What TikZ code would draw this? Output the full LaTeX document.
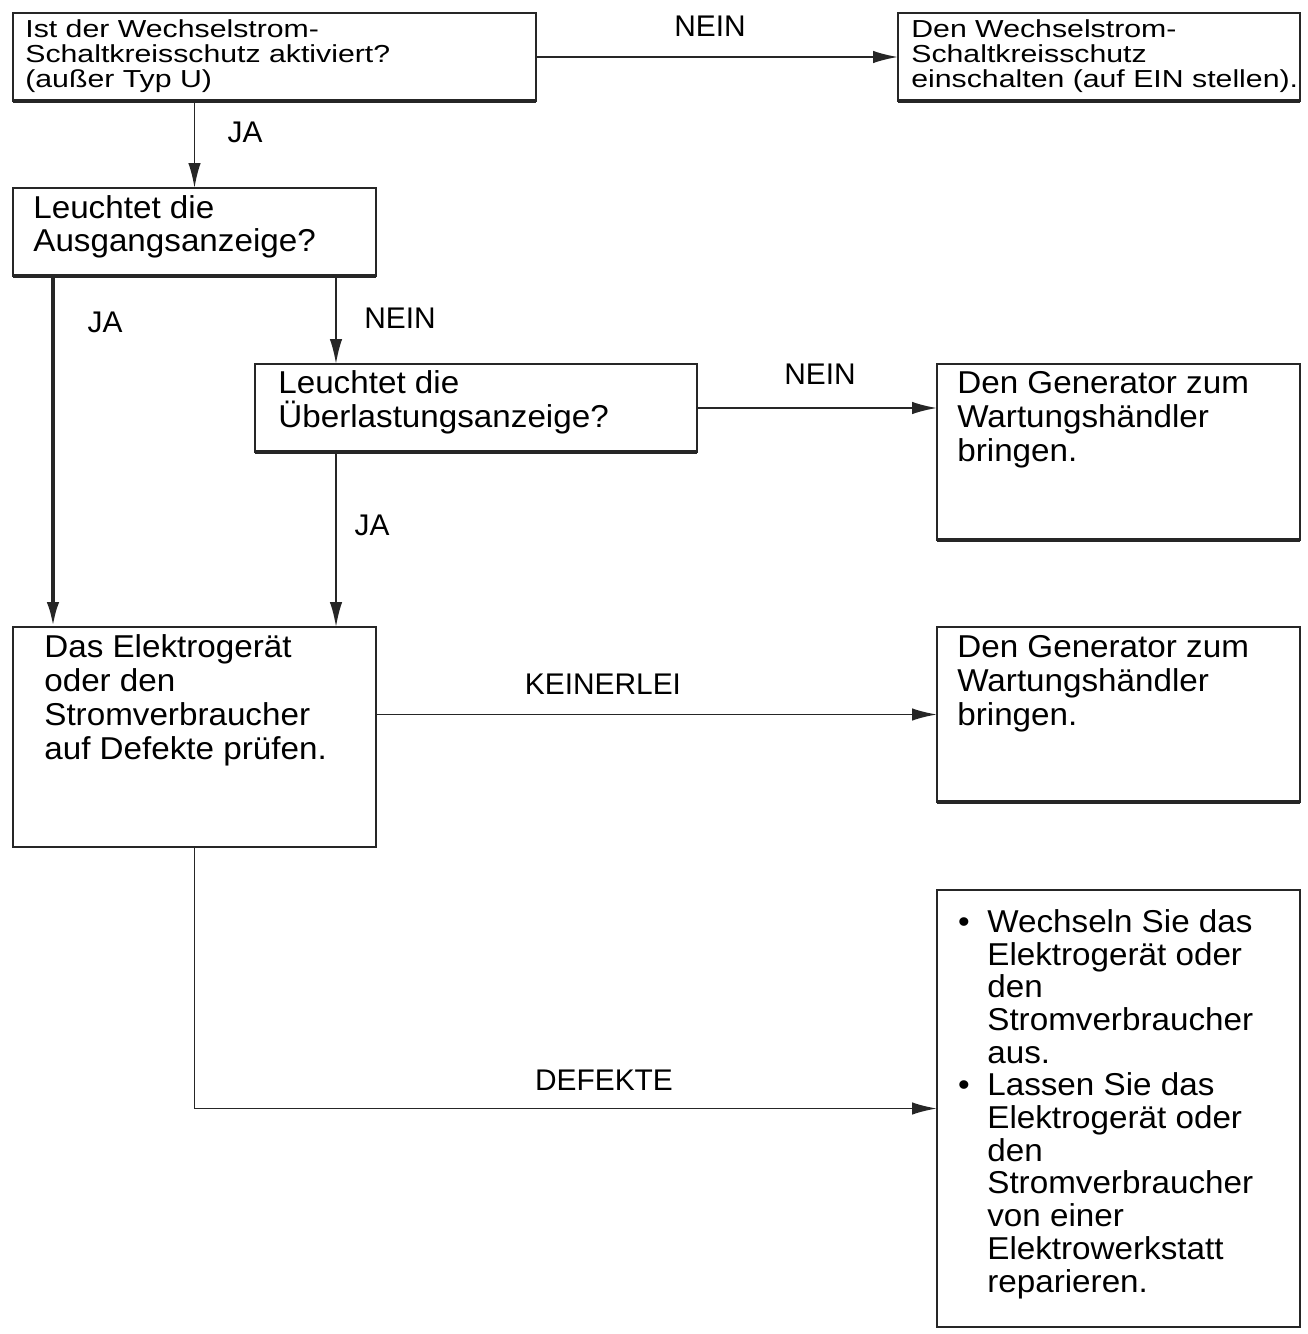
\documentclass[tikz,border=0pt]{standalone}
\usepackage{fontspec}
\setmainfont{Liberation Sans}
\newfontfamily\mainface{Liberation Sans}[FakeStretch=1.05]
\newfontfamily\wideface{Liberation Sans}[FakeStretch=1.23]
\usetikzlibrary{
  arrows.meta,
  fit
}
\tikzset{
  box/.style={draw=black!85,line width=1.1pt,inner sep=0pt,outer sep=0pt},
  boxedge/.style={draw=black!85,line width=2.4pt},
  boxtext/.style={inner sep=0pt,align=left,anchor=base west,
    font=\mainface\fontsize{18}{19.3}\selectfont},
  listtext/.style={boxtext,font=\mainface\fontsize{18}{18.6}\selectfont},
  widetext/.style={inner sep=0pt,align=left,anchor=base west,
    font=\wideface\fontsize{14}{14.4}\selectfont},
  lbl/.style={inner sep=0pt,font=\fontsize{17}{20}\selectfont},
  arr/.style={-{Latex[length=5mm,width=2.5mm]},line width=1.1pt,draw=black!85},
  thickarr/.style={arr,line width=2.2pt}
}

\begin{document}
\begin{tikzpicture}[x=0.02cm,y=-0.02cm]
  \useasboundingbox (0,0) rectangle (1307,1334);

  % Boxes
  \node[box,fit={(13,13) (536,101)}] (ask) {};
  \node[box,fit={(898,13) (1300,101)}] (ein) {};
  \node[box,fit={(13,188) (376,276)}] (ausg) {};
  \node[box,fit={(255,364) (697,452)}] (ueber) {};
  \node[box,fit={(937,364) (1300,540)}] (gen1) {};
  \node[box,fit={(13,627) (376,847)}] (pruef) {};
  \node[box,fit={(937,627) (1300,802)}] (gen2) {};
  \node[box,fit={(937,890) (1300,1327)}] (tausch) {};

  % heavier bottom edges
  \foreach \b in {ask,ein,ausg,ueber,gen1,gen2}{
    \draw[boxedge] (\b.south west) -- (\b.south east);
  }

  % Box texts (anchored on the baseline of the last line)
  \node[widetext] (askt) at (25,88) {Ist der Wechselstrom-\\Schaltkreisschutz aktiviert?\\(außer Typ U)};
  \node[widetext] (eint) at (911,88) {Den Wechselstrom-\\Schaltkreisschutz\\einschalten (auf EIN stellen).};
  \node[boxtext] (ausgt) at (33,252) {Leuchtet die\\Ausgangsanzeige?};
  \node[boxtext] (uebert) at (278,427) {Leuchtet die\\Überlastungsanzeige?};
  \node[boxtext] (gen1t) at (957,461) {Den Generator zum\\Wartungshändler\\bringen.};
  \node[boxtext] (prueft) at (44,759) {Das Elektrogerät\\oder den\\Stromverbraucher\\auf Defekte prüfen.};
  \node[boxtext] (gen2t) at (957,725) {Den Generator zum\\Wartungshändler\\bringen.};
  \node[listtext] (tauscht) at (987,1292) {\llap{\textbullet\hspace{10pt}}Wechseln Sie das\\Elektrogerät oder\\den\\Stromverbraucher\\aus.\\
    \llap{\textbullet\hspace{10pt}}Lassen Sie das\\Elektrogerät oder\\den\\Stromverbraucher\\von einer\\Elektrowerkstatt\\reparieren.};

  % Connectors
  \draw[arr] (ask.east) -- (ask.east -| ein.west);
  \draw[arr] (ask.south -| ausg.north) -- (ausg.north);
  \draw[thickarr] ([xshift=0.8cm]ausg.south west) -- ([xshift=0.8cm]pruef.north west);
  \draw[arr] ([xshift=-0.8cm]ausg.south east) -- ([xshift=1.62cm]ueber.north west);
  \draw[arr] (ueber.east) -- (ueber.east -| gen1.west);
  \draw[arr] ([xshift=1.62cm]ueber.south west) -- ([xshift=-0.8cm]pruef.north east);
  \draw[arr] (gen2.west -| pruef.east) -- (gen2.west);
  \draw[arr] (pruef.south) |- (tausch.west);

  % Labels
  \node[lbl] (l1) at (710,26) {NEIN};
  \node[lbl] (l2) at (245,132) {JA};
  \node[lbl] (l3) at (105,322) {JA};
  \node[lbl] (l4) at (400,318) {NEIN};
  \node[lbl] (l5) at (820,374) {NEIN};
  \node[lbl] (l6) at (372,525) {JA};
  \node[lbl] (l7) at (603,684) {KEINERLEI};
  \node[lbl] (l8) at (604,1080) {DEFEKTE};

\end{tikzpicture}
\end{document}
